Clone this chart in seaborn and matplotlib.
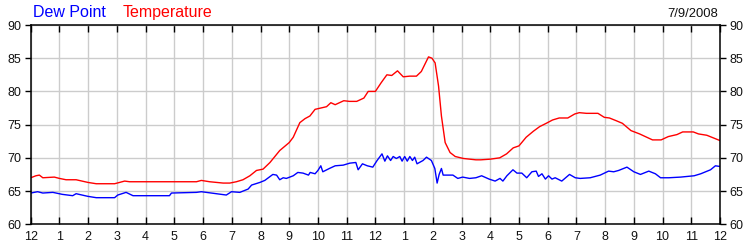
import matplotlib
matplotlib.use("Agg")
import matplotlib.pyplot as plt
import seaborn as sns
import pandas as pd

# ---- data ----
temp_hours = [0.0, 0.18, 0.3, 0.42, 0.82, 1.0, 1.23, 1.58, 1.99, 2.28, 2.92, 3.27, 3.44,
              5.77, 5.94, 6.23, 6.7, 6.93, 7.16, 7.39, 7.63, 7.86, 8.09, 8.33, 8.67, 9.0,
              9.14, 9.37, 9.55, 9.72, 9.9, 10.1, 10.3, 10.45, 10.6, 10.9, 11.1, 11.35, 11.6,
              11.75, 12.0, 12.2, 12.4, 12.57, 12.77, 12.97, 13.2, 13.43, 13.6, 13.85, 13.97,
              14.08, 14.2, 14.3, 14.43, 14.6, 14.78, 15.07, 15.5, 15.67, 16.0, 16.33, 16.57,
              16.8, 17.0, 17.25, 17.5, 17.72, 17.95, 18.17, 18.4, 18.7, 18.94, 19.1, 19.35,
              19.75, 19.97, 20.15, 20.38, 20.6, 20.9, 21.2, 21.4, 21.65, 21.95, 22.2, 22.5,
              22.7, 23.07, 23.25, 23.54, 23.77, 24.0]
temp_values = [67.0, 67.3, 67.4, 67.0, 67.1, 66.9, 66.7, 66.7, 66.3, 66.1, 66.1, 66.5, 66.4,
               66.4, 66.6, 66.4, 66.2, 66.2, 66.4, 66.7, 67.3, 68.1, 68.3, 69.3, 71.1, 72.3,
               73.1, 75.3, 75.9, 76.3, 77.3, 77.5, 77.7, 78.3, 78.0, 78.6, 78.5, 78.5, 79.0,
               80.0, 80.0, 81.3, 82.5, 82.4, 83.1, 82.2, 82.3, 82.3, 83.0, 85.2, 85.0,
               84.3, 80.8, 76.3, 72.3, 70.8, 70.2, 69.9, 69.7, 69.7, 69.8, 70.0, 70.6,
               71.5, 71.8, 73.1, 74.0, 74.7, 75.2, 75.7, 76.0, 76.0, 76.6, 76.8, 76.7,
               76.7, 76.1, 76.0, 75.6, 75.2, 74.1, 73.6, 73.2, 72.7, 72.7, 73.2, 73.5,
               73.9, 73.9, 73.6, 73.4, 73.0, 72.6]

dew_hours = [0.0, 0.24, 0.42, 0.77, 1.1, 1.46, 1.58, 1.99, 2.28, 2.92, 3.03, 3.32, 3.56,
             4.83, 4.9, 5.77, 5.94, 6.46, 6.81, 6.99, 7.28, 7.57, 7.69, 7.98, 8.15, 8.43,
             8.56, 8.67, 8.79, 8.9, 9.14, 9.3, 9.48, 9.67, 9.73, 9.9, 10.0, 10.1, 10.17,
             10.4, 10.6, 10.88, 11.11, 11.32, 11.4, 11.55, 11.72, 11.91, 12.06, 12.23, 12.33,
             12.42, 12.53, 12.62, 12.73, 12.85, 12.93, 13.02, 13.11, 13.2, 13.29, 13.37,
             13.45, 13.66, 13.78, 13.95, 14.07, 14.15, 14.22, 14.3, 14.36, 14.53, 14.7,
             14.87, 15.04, 15.28, 15.5, 15.7, 15.96, 16.17, 16.34, 16.44, 16.58, 16.79,
             16.93, 17.1, 17.27, 17.45, 17.6, 17.68, 17.8, 17.92, 18.03, 18.15, 18.26,
             18.49, 18.76, 18.96, 19.13, 19.48, 19.83, 20.12, 20.3, 20.47, 20.76, 21.0,
             21.23, 21.52, 21.75, 21.93, 22.22, 22.63, 23.1, 23.33, 23.67, 23.84, 24.0]
dew_values = [64.7, 64.9, 64.7, 64.8, 64.5, 64.3, 64.6, 64.2, 64.0, 64.0, 64.4, 64.8, 64.3,
              64.3, 64.7, 64.8, 64.9, 64.6, 64.4, 64.9, 64.8, 65.3, 65.9, 66.3, 66.6, 67.5,
              67.4, 66.7, 67.0, 66.9, 67.3, 67.8, 67.7, 67.4, 67.8, 67.6, 68.1, 68.8, 67.9,
              68.4, 68.8, 68.9, 69.2, 69.3, 68.2, 69.1, 68.8, 68.6, 69.6, 70.6, 69.5,
              70.3, 69.6, 70.2, 69.9, 70.2, 69.5, 70.2, 69.5, 70.2, 69.6, 70.1,
              69.1, 69.6, 70.1, 69.6, 68.4, 66.2, 67.5, 68.4, 67.4, 67.4, 67.4,
              66.9, 67.1, 66.9, 67.0, 67.3, 66.8, 66.5, 66.9, 66.5, 67.3, 68.2,
              67.7, 67.7, 67.0, 67.9, 68.0, 67.2, 67.6, 66.8, 67.3, 66.8, 67.0,
              66.5, 67.5, 67.0, 66.9, 67.0, 67.4, 68.0, 67.9, 68.1, 68.6, 67.9,
              67.5, 68.0, 67.6, 67.0, 67.0, 67.1, 67.3, 67.6, 68.2, 68.8, 68.7]

x_tick_labels = ["12", "1", "2", "3", "4", "5", "6", "7", "8", "9", "10", "11",
                 "12", "1", "2", "3", "4", "5", "6", "7", "8", "9", "10", "11", "12"]
y_ticks = [60, 65, 70, 75, 80, 85, 90]
date_label = "7/9/2008"

# ---- plot ----
sns.set_style("white")
plt.rcParams["font.family"] = ["Liberation Sans", "DejaVu Sans"]

fig = plt.figure(figsize=(7.5, 2.5), dpi=100)
ax = fig.add_axes([0.041, 0.103, 0.919, 0.797])

temp_df = pd.DataFrame({"hour": temp_hours, "value": temp_values})
dew_df = pd.DataFrame({"hour": dew_hours, "value": dew_values})

sns.lineplot(data=dew_df, x="hour", y="value", ax=ax, color="#0000ff",
             linewidth=1.0, estimator=None)
sns.lineplot(data=temp_df, x="hour", y="value", ax=ax, color="#ff0000",
             linewidth=1.0, estimator=None)

ax.set_xlim(0, 24)
ax.set_ylim(60, 90)
ax.set_xticks(range(25))
ax.set_xticklabels(x_tick_labels)
ax.set_yticks(y_ticks)
ax.set_yticklabels([str(v) for v in y_ticks])
ax.set_xlabel("")
ax.set_ylabel("")

ax.grid(True, color="#cccccc", linewidth=1.0)
ax.set_axisbelow(True)
for sp in ax.spines.values():
    sp.set_visible(True)
    sp.set_color("black")
    sp.set_linewidth(1.1)

ax.tick_params(axis="x", which="both", top=True, bottom=True, direction="in",
               length=5, width=1.0, color="black", labelsize=9, pad=5,
               labelcolor="#111111")
ax.tick_params(axis="y", which="both", left=True, right=True, labelleft=True,
               labelright=True, direction="out", length=4, width=1.0,
               color="black", labelsize=9, pad=3, labelcolor="#111111")

fig.text(33 / 750, 1 - 17.3 / 250, "Dew Point", color="#0000ff", fontsize=11.5,
         ha="left", va="baseline")
fig.text(123 / 750, 1 - 17.3 / 250, "Temperature", color="#ff0000", fontsize=11.5,
         ha="left", va="baseline")
fig.text(718 / 750, 1 - 16.7 / 250, date_label, color="#111111", fontsize=9.4,
         ha="right", va="baseline")

fig.savefig("out.png", dpi=100)
